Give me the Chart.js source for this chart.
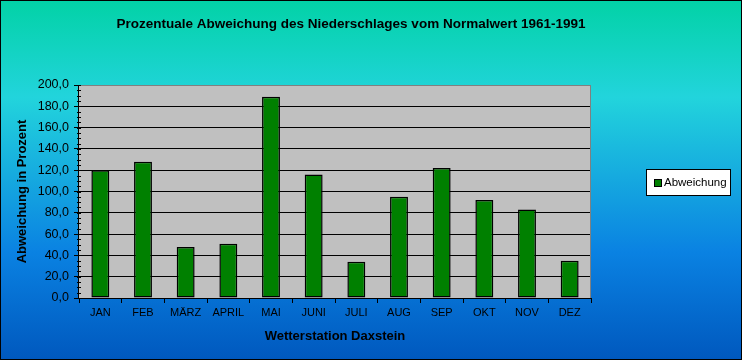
<!DOCTYPE html>
<html>
<head>
<meta charset="utf-8">
<script src="https://cdn.jsdelivr.net/npm/chart.js@4"></script>
<style>
    html, body { margin: 0; padding: 0; background: #fff; }
    #wrap { width: 742px; height: 360px; }
</style>
</head>
<body>
<div id="wrap"><canvas id="chart" width="742" height="360"></canvas></div>
<script>
// Daten
const monate = ['JAN', 'FEB', 'MÄRZ', 'APRIL', 'MAI', 'JUNI', 'JULI', 'AUG', 'SEP', 'OKT', 'NOV', 'DEZ'];
const abweichung = [120, 128, 48, 51, 189, 116, 34, 95, 122, 92, 83, 35];
const yTicks = [0, 20, 40, 60, 80, 100, 120, 140, 160, 180, 200];

const titel = 'Prozentuale Abweichung des Niederschlages vom Normalwert 1961-1991';
const font = '"Liberation Sans", Arial, sans-serif';

// Hintergrund, Zeichenfläche, Titel, Nebenstriche und Legende
const excelLook = {
    id: 'excelLook',
    beforeDraw(chart) {
        const { ctx, width, height, chartArea } = chart;
        const g = ctx.createLinearGradient(0, 0, 0, height);
        g.addColorStop(0, '#02D2A6');
        g.addColorStop(0.27, '#22D4DC');
        g.addColorStop(0.7, '#0A82E2');
        g.addColorStop(1, '#0058BE');
        ctx.save();
        ctx.fillStyle = g;
        ctx.fillRect(0, 0, width, height);
        ctx.fillStyle = '#C0C0C0';
        ctx.fillRect(chartArea.left, chartArea.top, chartArea.right - chartArea.left, chartArea.bottom - chartArea.top);
        ctx.restore();
    },
    afterDraw(chart) {
        const { ctx, width, height, chartArea } = chart;
        const y = chart.scales.y;
        ctx.save();
        // Rahmen der Zeichenfläche oben/rechts
        ctx.strokeStyle = '#808080';
        ctx.lineWidth = 1;
        ctx.beginPath();
        ctx.moveTo(chartArea.left, chartArea.top + 0.5);
        ctx.lineTo(chartArea.right - 0.5, chartArea.top + 0.5);
        ctx.lineTo(chartArea.right - 0.5, chartArea.bottom);
        ctx.stroke();
        // Achsen
        ctx.strokeStyle = '#000';
        ctx.beginPath();
        ctx.moveTo(chartArea.left - 0.5, chartArea.top);
        ctx.lineTo(chartArea.left - 0.5, chartArea.bottom + 0.5);
        ctx.lineTo(chartArea.right, chartArea.bottom + 0.5);
        ctx.stroke();
        // Haupt- und Nebenstriche innen
        ctx.beginPath();
        for (let v = 5; v <= 200; v += 5) {
            const py = Math.round(y.getPixelForValue(v)) + 0.5;
            ctx.moveTo(chartArea.left - 2, py);
            ctx.lineTo(chartArea.left + 2, py);
        }
        ctx.stroke();
        // Titel
        ctx.fillStyle = '#000';
        ctx.font = 'bold 13.5px ' + font;
        ctx.textAlign = 'center';
        ctx.textBaseline = 'middle';
        ctx.fillText(titel, 351, 24);
        // Legende
        const ds = chart.data.datasets[0];
        ctx.fillStyle = '#fff';
        ctx.fillRect(646.5, 169.5, 84, 26);
        ctx.strokeRect(646.5, 169.5, 84, 26);
        ctx.fillStyle = ds.backgroundColor;
        ctx.fillRect(654.5, 179.5, 7, 7);
        ctx.strokeRect(654.5, 179.5, 7, 7);
        ctx.fillStyle = '#000';
        ctx.font = '11.5px ' + font;
        ctx.textAlign = 'left';
        ctx.fillText(ds.label, 664, 183);
        // Außenrahmen
        ctx.strokeRect(0.5, 0.5, width - 1, height - 1);
        ctx.restore();
    }
};

const ctx = document.getElementById('chart').getContext('2d');
window.chart = new Chart(ctx, {
    type: 'bar',
    data: {
        labels: monate,
        datasets: [{
            label: 'Abweichung',
            data: abweichung,
            backgroundColor: '#008000',
            borderColor: '#000',
            borderWidth: 1.5,
            borderSkipped: false,
            categoryPercentage: 1,
            barPercentage: 0.42
        }]
    },
    options: {
        responsive: false,
        animation: false,
        devicePixelRatio: 1,
        layout: { padding: { left: 0, right: 151, top: 85, bottom: 0 } },
        plugins: {
            legend: { display: false },
            title: { display: false },
            tooltip: { enabled: false }
        },
        scales: {
            x: {
                grid: {
                    offset: true,
                    drawOnChartArea: false,
                    color: '#000',
                    tickLength: 5,
                    tickColor: '#000'
                },
                border: { display: false },
                ticks: {
                    color: '#000',
                    font: { family: font, size: 11 },
                    padding: 3,
                    maxRotation: 0
                },
                title: {
                    display: true,
                    text: 'Wetterstation Daxstein',
                    color: '#000',
                    font: { family: font, size: 13, weight: 'bold' },
                    padding: { top: 0, bottom: 16 }
                },
                afterFit(scale) { scale.height = 62; }
            },
            y: {
                min: 0,
                max: 200,
                afterBuildTicks(scale) {
                    scale.ticks = yTicks.map(v => ({ value: v }));
                },
                grid: {
                    color: ctx => (ctx.tick && ctx.tick.value === 200) ? '#808080' : '#000',
                    tickColor: '#000',
                    tickLength: 5
                },
                border: { display: false },
                ticks: {
                    color: '#000',
                    font: { family: font, size: 12.5 },
                    padding: 5,
                    callback: v => v.toFixed(1).replace('.', ',')
                },
                title: {
                    display: true,
                    text: 'Abweichung in Prozent',
                    color: '#000',
                    font: { family: font, size: 13, weight: 'bold' },
                    padding: { top: 15, bottom: 0 }
                },
                afterFit(scale) { scale.width = 79; }
            }
        }
    },
    plugins: [excelLook]
});
</script>
</body>
</html>
